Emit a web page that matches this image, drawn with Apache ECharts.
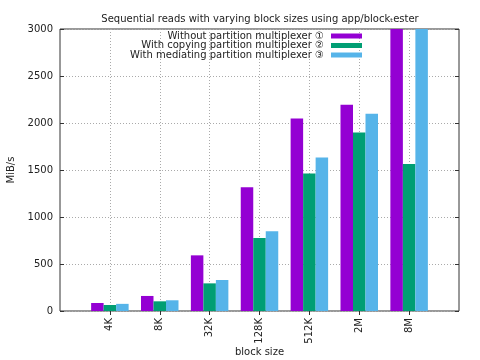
<!DOCTYPE html>
<html><head><meta charset="utf-8">
<script src="https://cdn.jsdelivr.net/npm/echarts@6/dist/echarts.min.js"></script>
<style>html,body{margin:0;padding:0;background:#fff}#c{width:480px;height:360px}</style>
</head><body><div id="c"></div>
<script>
const categories = ['', '4K', '8K', '32K', '128K', '512K', '2M', '8M', ''];
const seriesNames = ['Without partition multiplexer \u2460', 'With copying partition multiplexer \u2461', 'With mediating partition multiplexer \u2462'];
const without = [null, 85, 160, 592, 1316, 2049, 2195, 3400, null];
const copying = [null, 64, 103, 294, 777, 1464, 1900, 1564, null];
const mediating = [null, 76, 114, 330, 848, 1634, 2099, 3400, null];
const yTicks = [0, 500, 1000, 1500, 2000, 2500, 3000];
const colors = ['#9400d3', '#009e73', '#56b4e9'];

const font = 'DejaVu Sans';
const chart = echarts.init(document.getElementById('c'), null, {renderer: 'canvas'});
const values = [without, copying, mediating];
const legendTops = [31, 40.5, 50];
const innerOnly = i => i > 0 && i < categories.length - 1;
chart.setOption({
  animation: false,
  textStyle: {fontFamily: font},
  title: {text: 'Sequential reads with varying block sizes using app/block\u209Cester', left: 255, textAlign: 'center', top: 9,
    textStyle: {fontFamily: font, fontSize: 10, fontWeight: 'normal', color: '#222'}},
  legend: seriesNames.map((n, i) => ({
    data: [n], right: 118, top: legendTops[i], orient: 'vertical', align: 'right',
    itemWidth: 31, itemHeight: 5, itemGap: 0, padding: 0, icon: 'rect',
    textStyle: {fontFamily: font, fontSize: 10, color: '#222', padding: [0, 2, 0, 0]},
    itemStyle: {borderWidth: 0}
  })),
  grid: {left: 60, right: 21, top: 29, bottom: 49, outerBoundsMode: 'none', containLabel: false,
    show: true, borderColor: '#333', borderWidth: 1, backgroundColor: 'transparent'},
  xAxis: [{
    type: 'category', data: categories, boundaryGap: false,
    name: 'block size', nameLocation: 'middle', nameGap: 36, nameMoveOverlap: false,
    nameTextStyle: {fontFamily: font, fontSize: 10, color: '#222'},
    axisLine: {show: false},
    axisTick: {show: true, inside: true, length: 4, lineStyle: {color: '#333'}, interval: innerOnly},
    axisLabel: {rotate: 90, fontFamily: font, fontSize: 10, color: '#222', interval: 0, margin: 7},
    splitLine: {show: true, interval: innerOnly, lineStyle: {color: '#aaa', type: [1, 2], width: 1}}
  }, {
    type: 'category', data: categories, boundaryGap: false, position: 'top',
    axisLine: {show: false}, axisLabel: {show: false},
    axisTick: {show: true, inside: true, length: 4, lineStyle: {color: '#333'}, interval: innerOnly},
    splitLine: {show: false}
  }],
  yAxis: [{
    type: 'value', min: 0, max: 3000, interval: 500,
    name: 'MiB/s', nameLocation: 'middle', nameGap: 44, nameRotate: 90, nameMoveOverlap: false,
    nameTextStyle: {fontFamily: font, fontSize: 10, color: '#222'},
    axisLine: {show: false},
    axisTick: {show: true, inside: true, length: 4, lineStyle: {color: '#333'}},
    axisLabel: {fontFamily: font, fontSize: 10, color: '#222', margin: 7,
      formatter: v => yTicks.includes(v) ? String(v) : ''},
    splitLine: {show: true, lineStyle: {color: '#aaa', type: [1, 2], width: 1}}
  }, {
    type: 'value', min: 0, max: 3000, interval: 500, position: 'right',
    axisLine: {show: false}, axisLabel: {show: false},
    axisTick: {show: true, inside: true, length: 4, lineStyle: {color: '#333'}},
    splitLine: {show: false}
  }],
  series: seriesNames.map((n, i) => ({
    name: n, type: 'bar', data: values[i], barWidth: 12.5, barGap: '0%', clip: true,
    itemStyle: {color: colors[i]}
  }))
});
</script></body></html>
